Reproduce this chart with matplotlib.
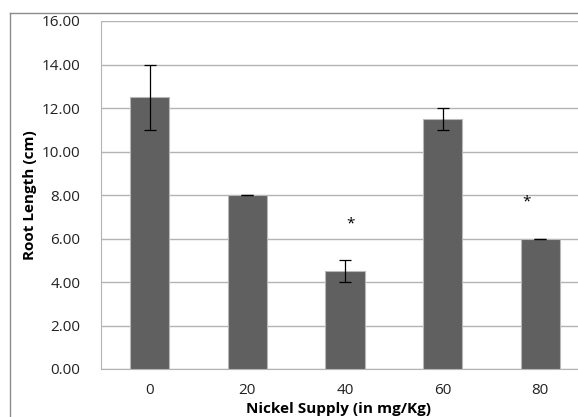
import matplotlib

matplotlib.use("Agg")

import matplotlib.pyplot as plt
from matplotlib.lines import Line2D

# Root length vs nickel supply
doses = ["0", "20", "40", "60", "80"]
root_len = [12.5, 8.0, 4.5, 11.5, 6.0]
err_low = [1.5, 0.0, 0.5, 0.5, 0.0]
err_high = [1.5, 0.0, 0.5, 0.5, 0.0]

# significance marks: (category index, x shift, y value)
star_idx = [2, 4]
star_dx = [0.06, -0.14]
star_y = [6.65, 7.7]

plt.rcParams["font.family"] = ["Open Sans", "DejaVu Sans"]

fig = plt.figure(figsize=(5.78, 4.17), dpi=100)
# outer chart frame (only left and top edges are visible)
fx, fy = 9.5 / 578, 1 - 12.5 / 417
fig.lines.append(Line2D([fx, fx], [0, fy], transform=fig.transFigure,
                        color="#8c8c8c", linewidth=1.0))
fig.lines.append(Line2D([fx, 1], [fy, fy], transform=fig.transFigure,
                        color="#8c8c8c", linewidth=1.0))

ax = fig.add_axes([101 / 578, 1 - 369 / 417, 488 / 578, 348 / 417])
x = list(range(len(doses)))
ax.bar(x, root_len, width=0.4, color="#606060", edgecolor="#b8b8b8",
       linewidth=0.8, zorder=3)
ax.errorbar(x, root_len, yerr=[err_low, err_high], fmt="none",
            ecolor="black", elinewidth=0.9, capsize=4, capthick=0.9, zorder=4)

for i, dx, yv in zip(star_idx, star_dx, star_y):
    ax.text(i + dx, yv, "*", ha="center", va="center", fontsize=11, zorder=5)

ax.set_xlim(-0.5, 4.5)
ax.set_ylim(0, 16)
ax.set_yticks(range(0, 17, 2))
ax.set_yticklabels([f"{v:.2f}" for v in range(0, 17, 2)])
ax.set_xticks(x)
ax.set_xticklabels(doses)
ax.grid(axis="y", color="#b3b3b3", linewidth=1.0, zorder=0)
ax.set_axisbelow(True)
for side in ["top", "right"]:
    ax.spines[side].set_visible(False)
ax.spines["left"].set_color("#b3b3b3")
ax.spines["bottom"].set_color("#b3b3b3")
ax.tick_params(axis="both", length=0, labelsize=11, colors="#222222")
ax.tick_params(axis="y", pad=15)
ax.tick_params(axis="x", pad=10)

fig.text(338 / 578, 1 - 409 / 417, "Nickel Supply (in mg/Kg)", ha="center",
         va="center", fontsize=11, fontweight="bold")
fig.text(30 / 578, 1 - 195 / 417, "Root Length (cm)", ha="center",
         va="center", rotation=90, fontsize=11, fontweight="bold")

fig.savefig("out.png", dpi=100)
